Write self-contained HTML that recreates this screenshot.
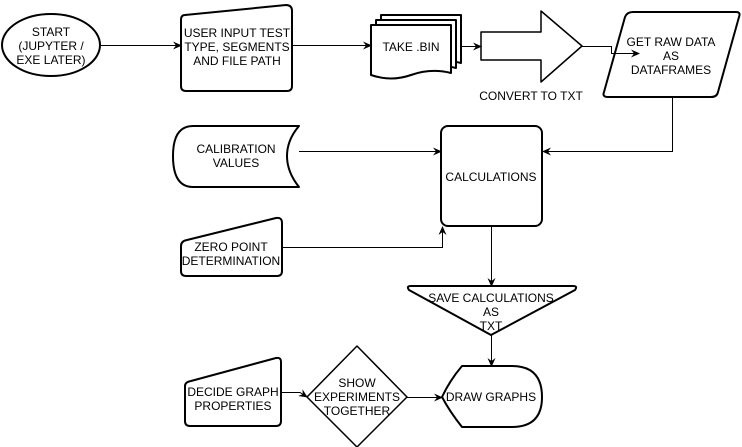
<!DOCTYPE html>
<html><head><style>body{margin:0;background:#fff}svg{display:block}text{font-family:"Liberation Sans",Arial,sans-serif;font-size:12px;fill:#000;text-anchor:middle}</style></head>
<body>
<svg width="742" height="447" viewBox="0 0 742 447" xmlns="http://www.w3.org/2000/svg">
<defs><marker id="a" markerWidth="10" markerHeight="10" refX="8" refY="5" orient="auto" markerUnits="userSpaceOnUse"><path d="M0,1 L9,5 L0,9 L3,5 Z" fill="#000"/></marker></defs>
<g fill="#fff" stroke="#000" stroke-width="2" stroke-linejoin="round">
<ellipse cx="51" cy="45" rx="49" ry="31"/>
<path d="M185,15 L286,5 Q292,5 292,11 L292,86 Q292,91 287,91 L186,91 Q181,91 181,86 L181,20 Q181,15 185,15 Z"/>
<path d="M381,15 L461,15 L461,63 Q441,58 421,65 Q401,72 381,65 Z"/>
<path d="M376,20 L456,20 L456,68 Q436,63 416,70 Q396,77 376,70 Z"/>
<path d="M371,25 L451,25 L451,73 Q431,68 411,75 Q391,82 371,75 Z"/>
<path d="M481,32 L541,32 L541,11 L582,46 L541,82 L541,60 L481,60 Z" stroke-width="1.5"/>
<path d="M633,12 L736,12 Q741,12 739,17 L718,92 Q717,97 711,97 L608,97 Q602,97 604,92 L625,17 Q627,12 633,12 Z"/>
<path d="M193,126 L299,126 Q287,140 287,156 Q287,172 299,187 L193,187 Q173,187 173,156 Q173,126 193,126 Z"/>
<rect x="441" y="126" width="101" height="100" rx="7"/>
<path d="M187,240 L276,218 Q282,217 282,223 L282,271 Q282,276 277,276 L186,276 Q181,276 181,271 L181,246 Q181,241 187,240 Z"/>
<path d="M411,286 L573,286 Q578,286 575,290 L491,335 L409,290 Q406,286 411,286 Z"/>
<path d="M191,381 L276,358 Q281,357 281,362 L281,421 Q281,426 276,426 L190,426 Q185,426 185,421 L185,386 Q185,382 191,381 Z"/>
<path d="M357,346 L407,397 L357,447 L307,397 Z" stroke-width="1.5"/>
<path d="M462,366 L512,366 Q542,366 542,397 Q542,427 512,427 L462,427 Q450,412 442,397 Q450,380 462,366 Z"/>
</g>
<g fill="none" stroke="#000" stroke-width="1">
<line x1="101" y1="45.5" x2="181" y2="45.5" marker-end="url(#a)"/>
<line x1="292" y1="45.5" x2="371" y2="45.5" marker-end="url(#a)"/>
<line x1="461" y1="46.5" x2="481" y2="46.5" marker-end="url(#a)"/>
<polyline points="582,46.5 611.5,46.5 611.5,53.5 639,53.5" marker-end="url(#a)"/>
<polyline points="672.5,98 672.5,151.5 543,151.5" marker-end="url(#a)"/>
<line x1="299" y1="151.5" x2="441" y2="151.5" marker-end="url(#a)"/>
<polyline points="282,247.5 442.5,247.5 442.5,227" marker-end="url(#a)"/>
<line x1="491.5" y1="227" x2="491.5" y2="286" marker-end="url(#a)"/>
<line x1="491.5" y1="335" x2="491.5" y2="366" marker-end="url(#a)"/>
<polyline points="281,392.5 300,392.5 307,397" marker-end="url(#a)"/>
<line x1="407" y1="397.5" x2="442" y2="397.5" marker-end="url(#a)"/>
</g>
<text x="51" y="36">START</text><text x="51" y="50">(JUPYTER /</text><text x="51" y="64">EXE LATER)</text>
<text x="237" y="37">USER INPUT TEST</text><text x="237" y="51">TYPE, SEGMENTS</text><text x="237" y="65">AND FILE PATH</text>
<text x="411" y="51">TAKE .BIN</text>
<text x="531" y="100">CONVERT TO TXT</text>
<text x="671" y="46">GET RAW DATA</text><text x="671" y="60">AS</text><text x="671" y="74">DATAFRAMES</text>
<text x="236" y="153">CALIBRATION</text><text x="236" y="167">VALUES</text>
<text x="491" y="181">CALCULATIONS</text>
<text x="231" y="251">ZERO POINT</text><text x="231" y="265">DETERMINATION</text>
<text x="491" y="302">SAVE CALCULATIONS</text><text x="491" y="316">AS</text><text x="491" y="330">TXT</text>
<text x="233" y="396">DECIDE GRAPH</text><text x="233" y="410">PROPERTIES</text>
<text x="357" y="387">SHOW</text><text x="357" y="401">EXPERIMENTS</text><text x="357" y="415">TOGETHER</text>
<text x="491" y="401">DRAW GRAPHS</text>
</svg>
</body></html>
